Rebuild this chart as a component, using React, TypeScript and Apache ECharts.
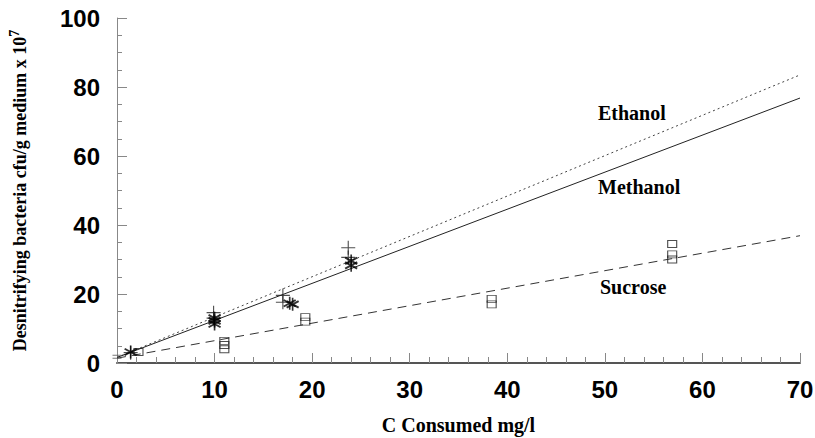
import React, { useEffect, useRef } from "react";
import * as echarts from "echarts";

// ---- data ----
const xTicks = [0, 10, 20, 30, 40, 50, 60, 70];
const yTicks = [0, 20, 40, 60, 80, 100];

const methanolPoints: [number, number][] = [
  [1.4, 3.2],
  [10.0, 13.0],
  [10.0, 12.2],
  [10.0, 11.3],
  [17.7, 17.3],
  [18.0, 17.0],
  [24.0, 29.6],
  [24.0, 28.3],
];
const ethanolPoints: [number, number][] = [
  [1.4, 3.0],
  [9.9, 14.6],
  [9.9, 13.0],
  [17.0, 19.6],
  [17.0, 17.6],
  [23.7, 33.4],
  [23.7, 30.6],
];
const sucrosePoints: [number, number][] = [
  [2.2, 3.2],
  [11.0, 6.4],
  [11.0, 5.2],
  [11.0, 4.0],
  [19.3, 13.3],
  [19.3, 12.0],
  [38.4, 18.6],
  [38.4, 17.0],
  [56.9, 34.5],
  [56.9, 31.5],
  [56.9, 30.0],
];
const controlPoints: [number, number][] = [[0, 1.8]];

const ethanolFit: [number, number][] = [
  [0, 1.6],
  [70, 83.5],
];
const methanolFit: [number, number][] = [
  [0, 1.6],
  [70, 76.8],
];
const sucroseFit: [number, number][] = [
  [0, 1.4],
  [70, 36.9],
];

const seriesLabels = ["Ethanol", "Methanol", "Sucrose"];

const STAR =
  "path://M44 0 L56 0 L56 100 L44 100 Z M90.3 18.8 L97.3 31.2 L9.7 81.2 L2.7 68.8 Z M97.3 68.8 L90.3 81.2 L2.7 31.2 L9.7 18.8 Z";
const PLUS =
  "path://M46 0 L54 0 L54 100 L46 100 Z M0 46 L100 46 L100 54 L0 54 Z";
const EQ = "path://M0 0 L100 0 L100 20 L0 20 Z M0 60 L100 60 L100 80 L0 80 Z";

const tickFont = "'Liberation Sans Narrow', 'Liberation Sans', Arial, sans-serif";
const serif = "'Liberation Serif', 'Times New Roman', serif";

export default function App() {
  const ref = useRef<HTMLDivElement>(null);

  useEffect(() => {
    if (!ref.current) return;
    const chart = echarts.init(ref.current, undefined, { renderer: "svg" });
    chart.setOption({
      animation: false,
      backgroundColor: "#fff",
      grid: { left: 117, right: 15, top: 18, bottom: 75, containLabel: false, outerBoundsMode: "none" },
      xAxis: {
        type: "value",
        min: 0,
        max: 70,
        interval: 10,
        axisLine: { show: true, lineStyle: { color: "#555", width: 2 } },
        axisTick: { show: true, inside: true, length: 10, lineStyle: { color: "#888", width: 1 } },
        minorTick: { show: true, splitNumber: 5, length: 6, lineStyle: { color: "#888", width: 1 } },
        splitLine: { show: false },
        axisLabel: {
          margin: 14,
          color: "#000",
          fontFamily: tickFont,
          fontWeight: "bold",
          fontSize: 24,
          formatter: (v: number) => (xTicks.includes(v) ? String(v) : ""),
        },
        name: "C Consumed mg/l",
        nameLocation: "middle",
        nameGap: 52,
        nameTextStyle: { fontFamily: serif, fontWeight: "bold", fontSize: 20, color: "#000" },
      },
      yAxis: {
        type: "value",
        min: 0,
        max: 100,
        interval: 20,
        axisLine: { show: true, lineStyle: { color: "#888", width: 1 } },
        axisTick: { show: true, inside: true, length: 10, lineStyle: { color: "#888", width: 1 } },
        minorTick: { show: true, splitNumber: 4, length: 5, lineStyle: { color: "#888", width: 1 } },
        splitLine: { show: false },
        axisLabel: {
          margin: 17,
          color: "#000",
          fontFamily: tickFont,
          fontWeight: "bold",
          fontSize: 24,
          formatter: (v: number) => (yTicks.includes(v) ? String(v) : ""),
        },
        name: "{t|Desnitrifying bacteria cfu/g medium x 10}{s|7}",
        nameLocation: "middle",
        nameRotate: 90,
        nameGap: 88,
        nameTextStyle: {
          rich: {
            t: { fontFamily: serif, fontWeight: "bold", fontSize: 18, color: "#000", lineHeight: 22, verticalAlign: "bottom" },
            s: { fontFamily: serif, fontWeight: "bold", fontSize: 14, color: "#000", lineHeight: 22, verticalAlign: "top", padding: [0, 0, 8, 0] },
          },
        },
      },
      series: [
        {
          name: "Ethanol fit",
          type: "line",
          data: ethanolFit,
          symbol: "none",
          lineStyle: { color: "#444", width: 1, type: [2, 3] },
          z: 2,
        },
        {
          name: "Methanol fit",
          type: "line",
          data: methanolFit,
          symbol: "none",
          lineStyle: { color: "#222", width: 1, type: "solid" },
          z: 2,
        },
        {
          name: "Sucrose fit",
          type: "line",
          data: sucroseFit,
          symbol: "none",
          lineStyle: { color: "#333", width: 1, type: [9, 6] },
          z: 2,
        },
        {
          name: "Ethanol",
          type: "scatter",
          data: ethanolPoints,
          symbol: PLUS,
          symbolSize: 14,
          itemStyle: { color: "#222" },
          z: 3,
        },
        {
          name: "Methanol",
          type: "scatter",
          data: methanolPoints,
          symbol: STAR,
          symbolSize: 13,
          itemStyle: { color: "#000" },
          z: 4,
        },
        {
          name: "Sucrose",
          type: "scatter",
          data: sucrosePoints,
          symbol: "rect",
          symbolSize: [9, 7],
          itemStyle: { color: "rgba(0,0,0,0)", borderColor: "#222", borderWidth: 1 },
          z: 3,
        },
        {
          name: "Control",
          type: "scatter",
          data: controlPoints,
          symbol: EQ,
          symbolSize: [9, 4],
          itemStyle: { color: "#555" },
          clip: false,
          z: 3,
        },
      ],
      graphic: [
        {
          type: "text",
          left: 598,
          top: 103,
          style: { text: seriesLabels[0], font: `bold 20px ${serif}`, fill: "#000" },
        },
        {
          type: "text",
          left: 598,
          top: 177,
          style: { text: seriesLabels[1], font: `bold 20px ${serif}`, fill: "#000" },
        },
        {
          type: "text",
          left: 600,
          top: 277,
          style: { text: seriesLabels[2], font: `bold 20px ${serif}`, fill: "#000" },
        },
      ],
    });
    return () => chart.dispose();
  }, []);

  return <div ref={ref} style={{ width: 815, height: 438, position: "absolute", left: 0, top: 0 }} />;
}
